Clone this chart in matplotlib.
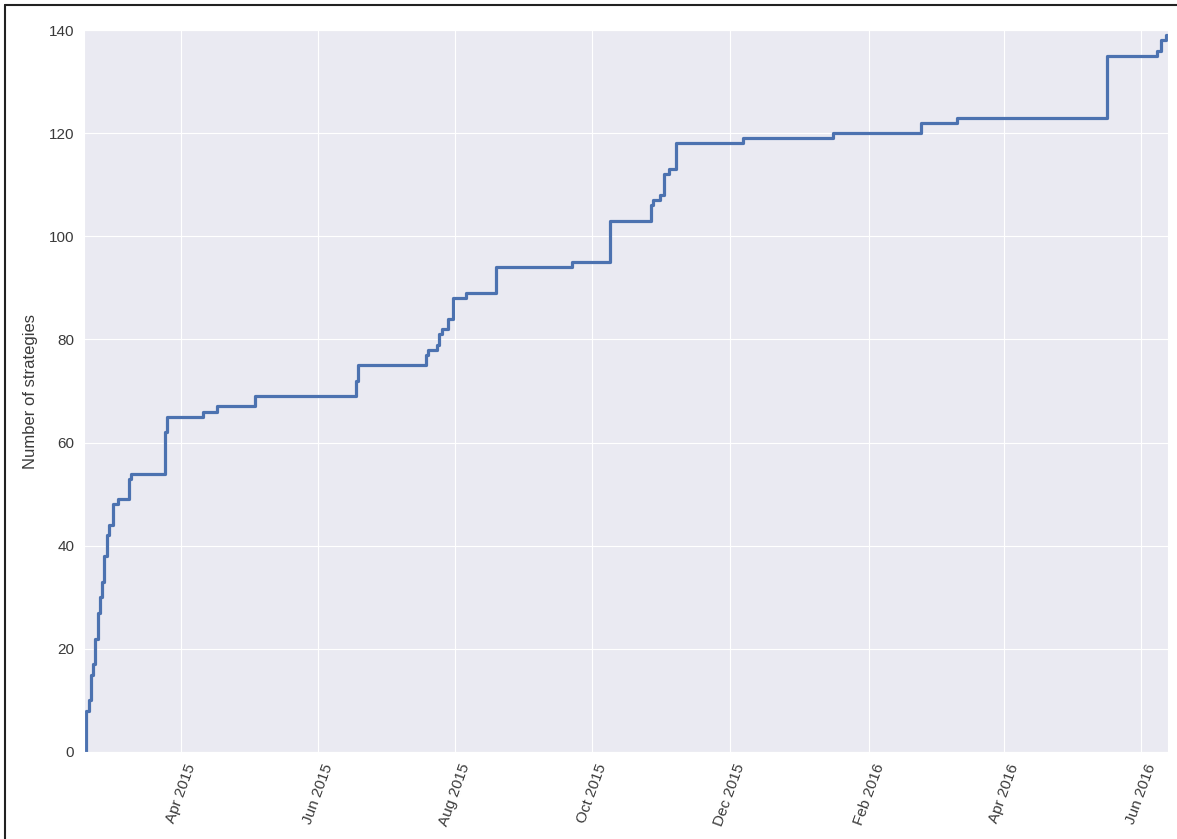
import numpy as np
import pandas as pd
import matplotlib
matplotlib.use('Agg')
import matplotlib.pyplot as plt
import matplotlib.dates as mdates
from matplotlib.lines import Line2D
import seaborn as sns

# dates where the cumulative count changes, and the count after the change
dates = ['2015-02-17', '2015-02-18', '2015-02-19', '2015-02-20', '2015-02-21',
         '2015-02-22', '2015-02-23', '2015-02-24', '2015-02-25', '2015-02-26',
         '2015-02-27', '2015-02-28', '2015-03-02', '2015-03-04', '2015-03-09',
         '2015-03-10', '2015-03-25', '2015-03-26', '2015-04-11', '2015-04-17',
         '2015-05-04', '2015-06-18', '2015-06-19', '2015-07-19', '2015-07-20',
         '2015-07-24', '2015-07-25', '2015-07-26', '2015-07-29', '2015-07-31',
         '2015-08-06', '2015-08-19', '2015-09-22', '2015-10-09', '2015-10-27',
         '2015-10-28', '2015-10-31', '2015-11-02', '2015-11-04', '2015-11-07',
         '2015-12-07', '2016-01-16', '2016-02-24', '2016-03-11', '2016-05-17',
         '2016-06-08', '2016-06-10', '2016-06-12', '2016-06-13']
counts = [0, 8, 10, 15, 17,
          22, 27, 30, 33, 38,
          42, 44, 48, 49, 53,
          54, 62, 65, 66, 67,
          69, 72, 75, 77, 78,
          79, 81, 82, 84, 88,
          89, 94, 95, 103, 106,
          107, 108, 112, 113, 118,
          119, 120, 122, 123, 135,
          136, 138, 139, 139]

sns.set_style('darkgrid', {'grid.linewidth': 1.4})
plt.rcParams['font.family'] = ['Liberation Sans', 'DejaVu Sans']

x = pd.to_datetime(dates)

fig = plt.figure(figsize=(11.77, 8.39), dpi=100)
ax = fig.add_axes([0.0714, 0.1037, 0.921, 0.8605])
ax.step(x, counts, where='post', color='#4C72B0', linewidth=2.3)

ax.set_xlim(x[0], x[-1])
ax.set_ylim(0, 140)
ax.set_yticks(np.arange(0, 141, 20))
ax.xaxis.set_major_locator(mdates.MonthLocator(bymonth=(2, 4, 6, 8, 10, 12)))
ax.xaxis.set_major_formatter(mdates.DateFormatter('%b %Y'))
plt.setp(ax.get_xticklabels(), rotation=70, ha='center', fontsize=11, color='#3a3a3a')
plt.setp(ax.get_yticklabels(), fontsize=11, color='#3a3a3a')
ax.set_ylabel('Number of strategies', fontsize=12, color='#3a3a3a', labelpad=8)

# frame around the picture (only top and left visible in the original)
fig.add_artist(Line2D([5 / 1177, 1], [1 - 5 / 839, 1 - 5 / 839], transform=fig.transFigure,
                      color='#222222', linewidth=1.5))
fig.add_artist(Line2D([5 / 1177, 5 / 1177], [0, 1 - 5 / 839], transform=fig.transFigure,
                      color='#222222', linewidth=1.5))

fig.savefig('out.png', dpi=100)
